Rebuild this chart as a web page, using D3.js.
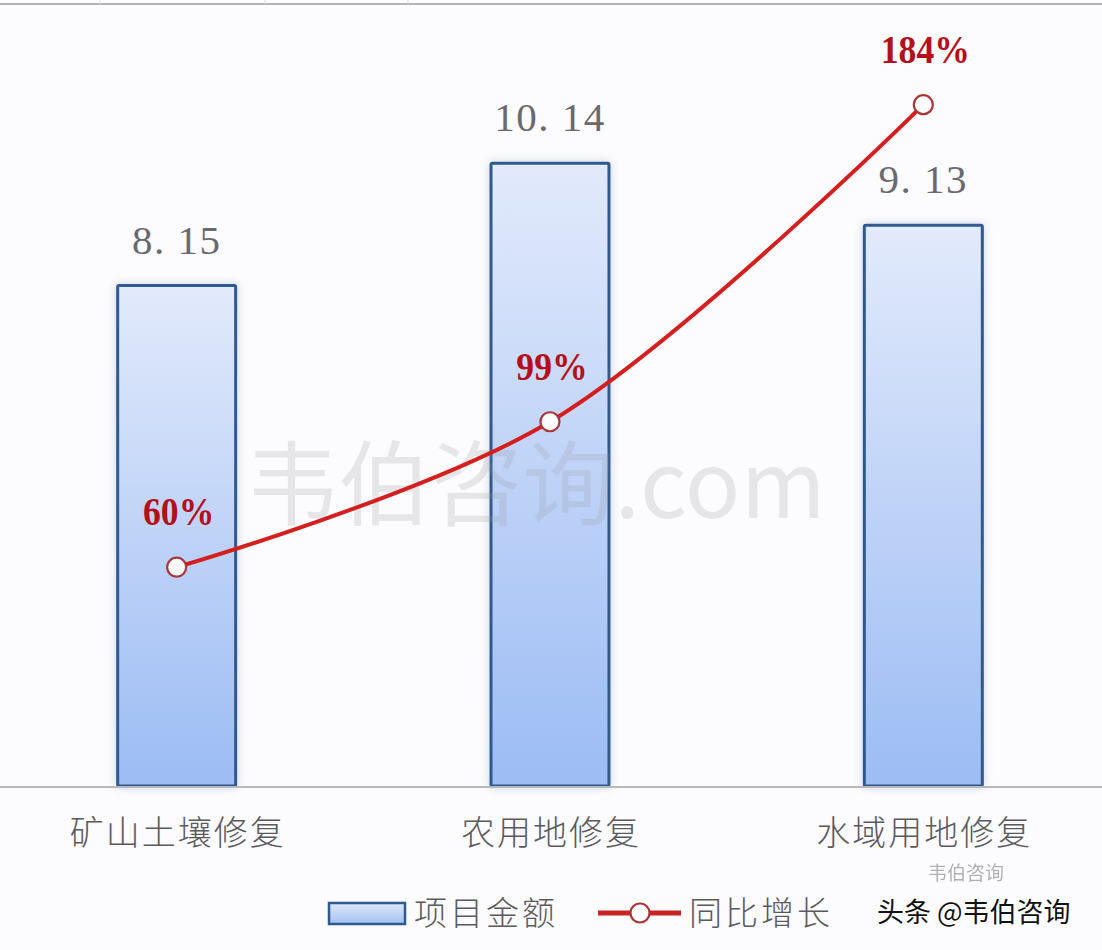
<!DOCTYPE html>
<html><head><meta charset="utf-8">
<script src="https://cdn.jsdelivr.net/npm/d3@7"></script>
<style>body{margin:0;background:#fcfbfd;}svg{display:block;}</style>
</head><body>
<script>
const categories = ["矿山土壤修复", "农用地修复", "水域用地修复"];
const amounts = [8.15, 10.14, 9.13];
const amountLabels = ["8. 15", "10. 14", "9. 13"];
const growth = [60, 99, 184];
const growthLabels = ["60%", "99%", "184%"];
const legendLabels = ["项目金额", "同比增长"];

const W = 1102, H = 950;
const svg = d3.select("body").append("svg").attr("width", W).attr("height", H);

const defs = svg.append("defs");
const grad = defs.append("linearGradient").attr("id", "barg").attr("x1", 0).attr("y1", 0).attr("x2", 0).attr("y2", 1);
grad.append("stop").attr("offset", "0%").attr("stop-color", "#e2eafb");
grad.append("stop").attr("offset", "100%").attr("stop-color", "#9cbcf4");
const lgrad = defs.append("linearGradient").attr("id", "legg").attr("x1", 0).attr("y1", 0).attr("x2", 0).attr("y2", 1);
lgrad.append("stop").attr("offset", "0%").attr("stop-color", "#dfe9fb");
lgrad.append("stop").attr("offset", "100%").attr("stop-color", "#a3c0f2");
const blur = defs.append("filter").attr("id", "sh").attr("x", "-20%").attr("y", "-10%").attr("width", "140%").attr("height", "120%");
blur.append("feGaussianBlur").attr("in", "SourceAlpha").attr("stdDeviation", 4).attr("result", "b");
blur.append("feFlood").attr("flood-color", "#8aa3c8").attr("flood-opacity", 0.45);
blur.append("feComposite").attr("in2", "b").attr("operator", "in").attr("result", "s");
const fm = blur.append("feMerge");
fm.append("feMergeNode").attr("in", "s");
fm.append("feMergeNode").attr("in", "SourceGraphic");

svg.append("rect").attr("width", W).attr("height", H).attr("fill", "#fcfbfd");

// top frame line
svg.append("line").attr("x1", 0).attr("x2", W).attr("y1", 4).attr("y2", 4).attr("stroke", "#b4b4b8").attr("stroke-width", 2);
[100, 265, 408].forEach(x => svg.append("line").attr("x1", x).attr("x2", x).attr("y1", 0).attr("y2", 4).attr("stroke", "#ddd"));

const x = d3.scaleBand().domain(categories).range([-10, 1110]).padding(0);
const barW = x.bandwidth() * 0.316;
const y = d3.scaleLinear().domain([0, 12.8]).range([786, 0]);
const y2 = d3.scaleLinear().domain([0, 200]).range([791, 45]);
const cx = c => x(c) + x.bandwidth() / 2;

// bars
svg.selectAll("rect.bar").data(amounts).join("rect").attr("class", "bar")
  .attr("x", (d, i) => cx(categories[i]) - barW / 2)
  .attr("y", d => y(d))
  .attr("width", barW)
  .attr("height", d => y(0) - y(d))
  .attr("fill", "url(#barg)").attr("stroke", "#2e5a8e").attr("stroke-width", 3)
  .attr("filter", "url(#sh)").attr("rx", 1.5);

// watermark
svg.append("text").attr("x", 536).attr("y", 518).attr("text-anchor", "middle")
  .attr("font-family", "Noto Sans CJK SC").attr("font-size", 92).attr("fill", "#9a9aa0").attr("opacity", 0.22)
  .text("韦伯咨询.com");

// baseline axis
const xAxis = d3.axisBottom(x).tickSize(0).tickFormat(() => "");
const ax = svg.append("g").attr("transform", "translate(0,787)").call(xAxis);
ax.select(".domain").attr("stroke", "#b8b8bc").attr("stroke-width", 2).attr("d", "M0,0H" + W);

// category labels
svg.selectAll("text.cat").data(categories).join("text").attr("class", "cat")
  .attr("x", d => cx(d) + 1).attr("y", 845).attr("text-anchor", "middle")
  .attr("font-family", "Noto Sans CJK SC").attr("font-weight", 300).attr("font-size", 34)
  .attr("letter-spacing", 2).attr("fill", "#5a5a5e").text(d => d);

// value labels
svg.selectAll("text.val").data(amounts).join("text").attr("class", "val")
  .attr("x", (d, i) => cx(categories[i])).attr("y", d => y(d) - 32).attr("text-anchor", "middle")
  .attr("font-family", "Liberation Serif").attr("font-size", 41).attr("letter-spacing", 1.5)
  .attr("fill", "#6a6a6e").text((d, i) => amountLabels[i]);

// line
const pts = growth.map((g, i) => [cx(categories[i]), y2(g)]);
svg.append("path").datum(pts)
  .attr("d", d3.line().curve(d3.curveCatmullRom.alpha(0.5)))
  .attr("fill", "none").attr("stroke", "#d41f1f").attr("stroke-width", 4);
svg.selectAll("circle.m").data(pts).join("circle").attr("class", "m")
  .attr("cx", d => d[0]).attr("cy", d => d[1]).attr("r", 9.5)
  .attr("fill", "#fff").attr("stroke", "#a8373a").attr("stroke-width", 2.2);

// growth labels
svg.selectAll("text.g").data(growth).join("text").attr("class", "g")
  .attr("x", (d, i) => cx(categories[i]) + 2).attr("y", d => y2(d) - 42).attr("text-anchor", "middle")
  .attr("font-family", "Liberation Serif").attr("font-weight", "bold").attr("font-size", 41)
  .attr("fill", "#b3101c").attr("transform", (d, i) => { const px = cx(categories[i]) + 2, py = y2(d) - 42; return `translate(${px},${py}) scale(0.87,1) translate(${-px},${-py})`; })
  .text((d, i) => growthLabels[i]);

// legend
const lg = svg.append("g");
lg.append("rect").attr("x", 329).attr("y", 903).attr("width", 76).attr("height", 21)
  .attr("fill", "url(#legg)").attr("stroke", "#2e5a8e").attr("stroke-width", 2.5);
lg.append("text").attr("x", 414).attr("y", 925).attr("font-family", "Noto Sans CJK SC").attr("font-weight", 300)
  .attr("font-size", 33).attr("fill", "#5a5a5e").attr("letter-spacing", 3).text(legendLabels[0]);
lg.append("line").attr("x1", 598).attr("x2", 681).attr("y1", 913).attr("y2", 913).attr("stroke", "#c82222").attr("stroke-width", 5);
lg.append("circle").attr("cx", 640).attr("cy", 913).attr("r", 9.5).attr("fill", "#fff").attr("stroke", "#a8373a").attr("stroke-width", 2.2);
lg.append("text").attr("x", 689).attr("y", 925).attr("font-family", "Noto Sans CJK SC").attr("font-weight", 300)
  .attr("font-size", 33).attr("fill", "#5a5a5e").attr("letter-spacing", 3).text(legendLabels[1]);

// source watermark
svg.append("text").attr("x", 966).attr("y", 880).attr("text-anchor", "middle")
  .attr("font-family", "Noto Sans CJK SC").attr("font-size", 19).attr("fill", "#555").attr("opacity", 0.45).text("韦伯咨询");
svg.append("text").attr("x", 877).attr("y", 922)
  .attr("font-family", "Noto Sans CJK SC").attr("font-size", 27).attr("fill", "#111")
  .attr("stroke", "#fff").attr("stroke-width", 3).attr("paint-order", "stroke").text("头条 @韦伯咨询");
</script>
</body></html>
